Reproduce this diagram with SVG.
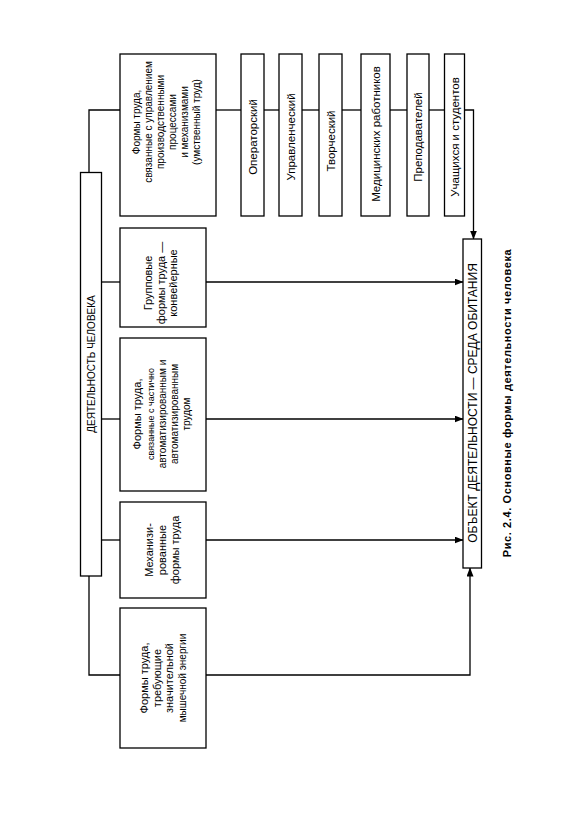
<svg xmlns="http://www.w3.org/2000/svg" width="583" height="827" viewBox="0 0 583 827">
<style>
.box{fill:#fff;stroke:#000;stroke-width:1.3}
.ln{fill:none;stroke:#000;stroke-width:1.3}
text{font-family:"Liberation Sans",Arial,sans-serif;fill:#000;text-anchor:middle}
.t{font-size:10px}
.s{font-size:11px}
.r{font-size:11.5px}
.m{font-size:9px}
.o{font-size:12px}
.cap{font-size:11px;font-weight:bold;letter-spacing:0.6px}
</style>
<defs>
<marker id="ah" markerWidth="9" markerHeight="7" refX="8.5" refY="3.5" orient="auto" markerUnits="userSpaceOnUse">
<path d="M0,0 L9,3.5 L0,7 Z" fill="#000"/>
</marker>
</defs>
<rect width="583" height="827" fill="#fff"/>
<g id="connectors">
<polyline class="ln" points="89,172 89,110 120,110"/>
<polyline class="ln" points="89,576 89,675 120,675"/>
<line class="ln" x1="102" y1="282" x2="120" y2="282"/>
<line class="ln" x1="102" y1="419" x2="120" y2="419"/>
<line class="ln" x1="102" y1="540" x2="120" y2="540"/>
<line class="ln" x1="216" y1="110" x2="241" y2="110"/>
<line class="ln" x1="264" y1="110" x2="279" y2="110"/>
<line class="ln" x1="302" y1="110" x2="319" y2="110"/>
<line class="ln" x1="342" y1="110" x2="361" y2="110"/>
<line class="ln" x1="390" y1="110" x2="407" y2="110"/>
<line class="ln" x1="429" y1="110" x2="444" y2="110"/>
<polyline class="ln" points="465,110 473.5,110 473.5,239" marker-end="url(#ah)"/>
<line class="ln" x1="206" y1="282" x2="463" y2="282" marker-end="url(#ah)"/>
<line class="ln" x1="206" y1="419" x2="463" y2="419" marker-end="url(#ah)"/>
<line class="ln" x1="206" y1="540" x2="463" y2="540" marker-end="url(#ah)"/>
<polyline class="ln" points="206,675 470,675 470,568" marker-end="url(#ah)"/>
</g>
<g id="n-activity">
<rect class="box" x="80.5" y="172.5" width="21" height="403.5"/>
<text class="t" transform="translate(95,364) rotate(-90)">ДЕЯТЕЛЬНОСТЬ ЧЕЛОВЕКА</text>
</g>
<g id="n-mental">
<rect class="box" x="120" y="54" width="96" height="162"/>
<text class="t" transform="translate(140,122) rotate(-90)"><tspan x="0" y="0">Формы труда,</tspan><tspan x="0" y="12">связанные с управлением</tspan><tspan x="0" y="24">производственными</tspan><tspan x="0" y="36">процессами</tspan><tspan x="0" y="48">и механизмами</tspan><tspan x="0" y="60">(умственный труд)</tspan></text>
</g>
<g id="n-oper">
<rect class="box" x="241" y="54" width="23" height="162"/>
<text class="r" transform="translate(256.5,137) rotate(-90)">Операторский</text>
</g>
<g id="n-upr">
<rect class="box" x="279" y="54" width="23" height="162"/>
<text class="r" transform="translate(294.5,137) rotate(-90)">Управленческий</text>
</g>
<g id="n-tvor">
<rect class="box" x="319" y="54" width="23" height="162"/>
<text class="r" transform="translate(334.5,141) rotate(-90)">Творческий</text>
</g>
<g id="n-med">
<rect class="box" x="361" y="54" width="29" height="162"/>
<text class="r" transform="translate(379.5,134) rotate(-90)">Медицинских работников</text>
</g>
<g id="n-prep">
<rect class="box" x="407" y="54" width="22" height="162"/>
<text class="r" transform="translate(422,137) rotate(-90)">Преподавателей</text>
</g>
<g id="n-stud">
<rect class="box" x="444.5" y="54" width="20" height="162"/>
<text class="r" transform="translate(458.5,137) rotate(-90)">Учащихся и студентов</text>
</g>
<g id="n-group">
<rect class="box" x="120" y="228" width="86" height="99"/>
<text class="s" transform="translate(152,283) rotate(-90)"><tspan x="0" y="0">Групповые</tspan><tspan x="0" y="12.5">формы труда —</tspan><tspan x="0" y="25">конвейерные</tspan></text>
</g>
<g id="n-auto">
<rect class="box" x="120" y="338" width="86" height="153"/>
<text transform="translate(141,414) rotate(-90)"><tspan class="s" x="0" y="0">Формы труда,</tspan><tspan class="m" x="0" y="13">связанные с частично</tspan><tspan class="t" x="0" y="25">автоматизированным и</tspan><tspan class="t" x="0" y="37">автоматизированным</tspan><tspan class="t" x="0" y="49">трудом</tspan></text>
</g>
<g id="n-mech">
<rect class="box" x="120" y="502" width="86" height="96"/>
<text class="s" transform="translate(153,550) rotate(-90)"><tspan x="0" y="0">Механизи-</tspan><tspan x="0" y="13">рованные</tspan><tspan x="0" y="26">формы труда</tspan></text>
</g>
<g id="n-muscle">
<rect class="box" x="120" y="608" width="86" height="140"/>
<text class="s" transform="translate(148,678) rotate(-90)"><tspan x="0" y="0">Формы труда,</tspan><tspan x="0" y="12.5">требующие</tspan><tspan x="0" y="25">значительной</tspan><tspan class="t" x="0" y="38">мышечной энергии</tspan></text>
</g>
<g id="n-object">
<rect class="box" x="463" y="239" width="18.5" height="329"/>
<text class="o" transform="translate(476.5,403) rotate(-90)">ОБЪЕКТ ДЕЯТЕЛЬНОСТИ — СРЕДА ОБИТАНИЯ</text>
</g>
<text class="cap" transform="translate(511,403) rotate(-90)">Рис. 2.4. Основные формы деятельности человека</text>
</svg>
